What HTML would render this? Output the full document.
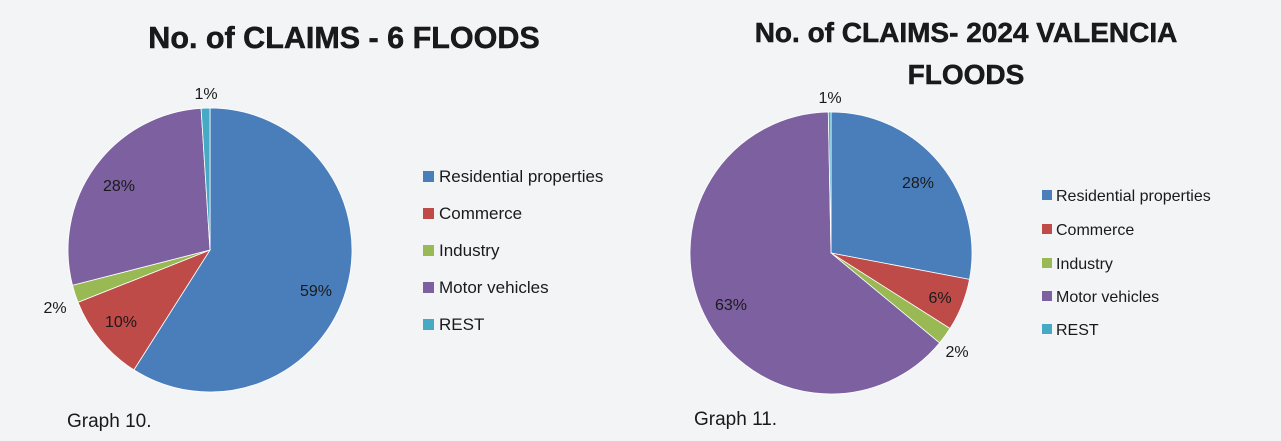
<!DOCTYPE html>
<html><head><style>
html,body{margin:0;padding:0;background:#f3f4f6;}
svg{display:block;}
text{font-family:"Liberation Sans",sans-serif;fill:#1a1a1a;}
</style></head><body>
<svg width="1281" height="441" viewBox="0 0 1281 441" xmlns="http://www.w3.org/2000/svg">
<rect width="1281" height="441" fill="#f3f4f6"/>
<text x="344" y="48" font-size="30.5" font-weight="bold" text-anchor="middle" fill="#111" stroke="#111" stroke-width="0.5">No. of CLAIMS - 6 FLOODS</text>
<text x="966" y="42" font-size="28" font-weight="bold" text-anchor="middle" fill="#111" stroke="#111" stroke-width="0.5">No. of CLAIMS- 2024 VALENCIA</text>
<text x="966" y="84" font-size="28" font-weight="bold" text-anchor="middle" fill="#111" stroke="#111" stroke-width="0.5">FLOODS</text>

<g stroke="#ffffff" stroke-width="0.8">
<path d="M210,250 L210,108 A142,142 0 1,1 133.9,369.9 Z" fill="#4a7ebb"/>
<path d="M210,250 L133.9,369.9 A142,142 0 0,1 78,302.3 Z" fill="#be4b48"/>
<path d="M210,250 L78,302.3 A142,142 0 0,1 72.5,285.3 Z" fill="#98b954"/>
<path d="M210,250 L72.5,285.3 A142,142 0 0,1 201.1,108.3 Z" fill="#7d60a0"/>
<path d="M210,250 L201.1,108.3 A142,142 0 0,1 210,108 Z" fill="#46aac5"/>

<path d="M831,253 L831,112 A141,141 0 0,1 969.5,279.4 Z" fill="#4a7ebb"/>
<path d="M831,253 L969.5,279.4 A141,141 0 0,1 950,328.5 Z" fill="#be4b48"/>
<path d="M831,253 L950,328.5 A141,141 0 0,1 939.6,342.9 Z" fill="#98b954"/>
<path d="M831,253 L939.6,342.9 A141,141 0 1,1 828.3,112 Z" fill="#7d60a0"/>
<path d="M831,253 L828.3,112 A141,141 0 0,1 831,112 Z" fill="#46aac5"/>
</g>

<g font-size="16" text-anchor="middle">
<text x="316" y="296">59%</text>
<text x="121" y="327">10%</text>
<text x="55" y="313">2%</text>
<text x="119" y="191">28%</text>
<text x="206" y="99">1%</text>
<text x="918" y="188">28%</text>
<text x="940" y="303">6%</text>
<text x="957" y="357">2%</text>
<text x="731" y="310">63%</text>
<text x="830" y="103">1%</text>
</g>

<g font-size="17">
<rect x="423" y="171" width="11" height="11" fill="#4a7ebb"/><text x="439" y="182">Residential properties</text>
<rect x="423" y="208" width="11" height="11" fill="#be4b48"/><text x="439" y="219">Commerce</text>
<rect x="423" y="245" width="11" height="11" fill="#98b954"/><text x="439" y="256">Industry</text>
<rect x="423" y="282" width="11" height="11" fill="#7d60a0"/><text x="439" y="293">Motor vehicles</text>
<rect x="423" y="319" width="11" height="11" fill="#46aac5"/><text x="439" y="330">REST</text>
</g>
<g font-size="16">
<rect x="1042" y="190" width="10" height="10" fill="#4a7ebb"/><text x="1056" y="201">Residential properties</text>
<rect x="1042" y="224" width="10" height="10" fill="#be4b48"/><text x="1056" y="235">Commerce</text>
<rect x="1042" y="258" width="10" height="10" fill="#98b954"/><text x="1056" y="269">Industry</text>
<rect x="1042" y="291" width="10" height="10" fill="#7d60a0"/><text x="1056" y="302">Motor vehicles</text>
<rect x="1042" y="324" width="10" height="10" fill="#46aac5"/><text x="1056" y="335">REST</text>
</g>

<text x="67" y="427" font-size="19">Graph 10.</text>
<text x="694" y="425" font-size="19">Graph 11.</text>
</svg>
</body></html>
